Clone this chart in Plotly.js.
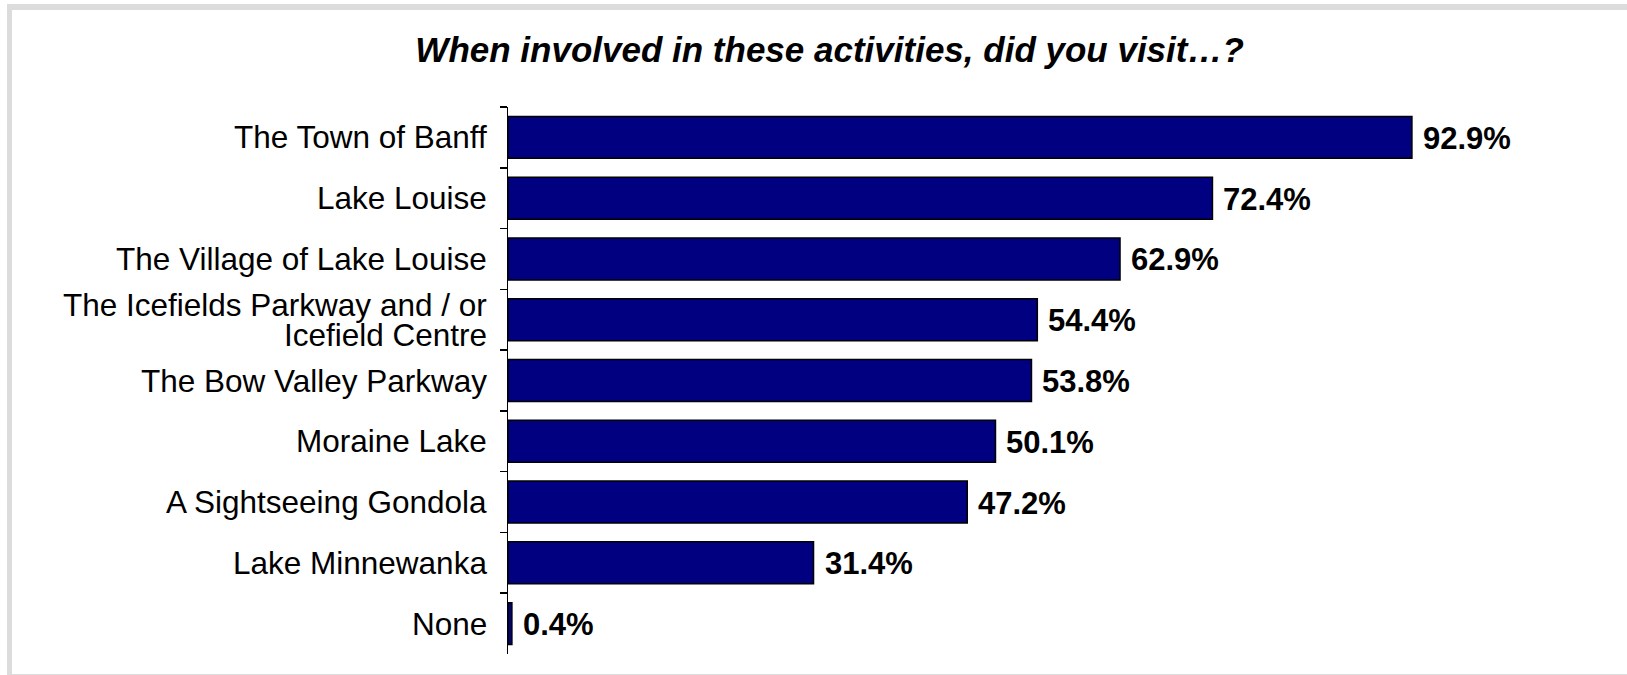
<!DOCTYPE html>
<html>
<head>
<meta charset="utf-8">
<script src="https://cdn.plot.ly/plotly-3.0.1.min.js"></script>
<style>
  html, body { margin: 0; padding: 0; background: #ffffff; }
  #wrap { position: relative; width: 1627px; height: 675px; overflow: hidden; background: #ffffff; }
  #frame { position: absolute; left: 7px; top: 4px; width: 1615px; height: 664px; border-style: solid; border-color: #dcdcdc; border-width: 6px 5px 5px 5px; }
  #chart { position: absolute; left: 0; top: 0; width: 1627px; height: 675px; }
</style>
</head>
<body>
<div id="wrap">
  <div id="frame"></div>
  <div id="chart"></div>
</div>
<script>
// ---- data ----
const chartTitle = "When involved in these activities, did you visit…?";
const categories = [
  "The Town of Banff",
  "Lake Louise",
  "The Village of Lake Louise",
  "The Icefields Parkway and / or\nIcefield Centre",
  "The Bow Valley Parkway",
  "Moraine Lake",
  "A Sightseeing Gondola",
  "Lake Minnewanka",
  "None"
];
const values = [92.9, 72.4, 62.9, 54.4, 53.8, 50.1, 47.2, 31.4, 0.4];
const valueLabels = ["92.9%", "72.4%", "62.9%", "54.4%", "53.8%", "50.1%", "47.2%", "31.4%", "0.4%"];

// ---- styling ----
const FONT = "Liberation Sans, Arial, Helvetica, sans-serif";
const LABEL_SIZE = 31.5;
const VALUE_SIZE = 31;
const LINE_GAP = 30;

const trace = {
  type: "bar",
  orientation: "h",
  x: values,
  y: categories,
  marker: { color: "#000080", line: { color: "#000000", width: 1.5 } },
  hoverinfo: "none"
};

const annotations = [];
// value labels
values.forEach((v, i) => {
  annotations.push({
    x: v, y: categories[i], xref: "x", yref: "y",
    text: "<b>" + valueLabels[i] + "</b>",
    showarrow: false, xanchor: "left", yanchor: "middle",
    xshift: 9, yshift: -1,
    font: { family: FONT, size: VALUE_SIZE, color: "#000000" }
  });
});
// category labels (multi-line ones split into individual lines)
categories.forEach((c) => {
  const lines = c.split("\n");
  lines.forEach((ln, k) => {
    annotations.push({
      x: 0, y: c, xref: "paper", yref: "y",
      text: ln,
      showarrow: false, xanchor: "right", yanchor: "middle",
      xshift: -19,
      yshift: ((lines.length - 1) / 2 - k) * LINE_GAP,
      font: { family: FONT, size: LABEL_SIZE, color: "#000000" }
    });
  });
});

const layout = {
  width: 1627, height: 675,
  paper_bgcolor: "rgba(0,0,0,0)",
  plot_bgcolor: "rgba(0,0,0,0)",
  margin: { l: 507.5, r: 145.5, t: 107, b: 21, pad: 0 },
  title: {
    text: "<b><i>" + chartTitle + "</i></b>",
    font: { family: FONT, size: 35, color: "#000000" },
    xref: "container", x: 0.5099, xanchor: "center",
    yref: "container", y: 1 - 50 / 675, yanchor: "middle"
  },
  showlegend: false,
  bargap: 0.31,
  xaxis: {
    range: [0, 100], visible: false, fixedrange: true
  },
  yaxis: {
    type: "category",
    autorange: "reversed",
    showticklabels: false,
    showgrid: false, zeroline: false,
    showline: true, linecolor: "#000000", linewidth: 1.5,
    ticks: "outside", ticklen: 7, tickwidth: 1.5, tickcolor: "#000000",
    tickson: "boundaries",
    fixedrange: true
  },
  annotations: annotations
};

Plotly.newPlot("chart", [trace], layout, { staticPlot: true, displayModeBar: false });
</script>
</body>
</html>
